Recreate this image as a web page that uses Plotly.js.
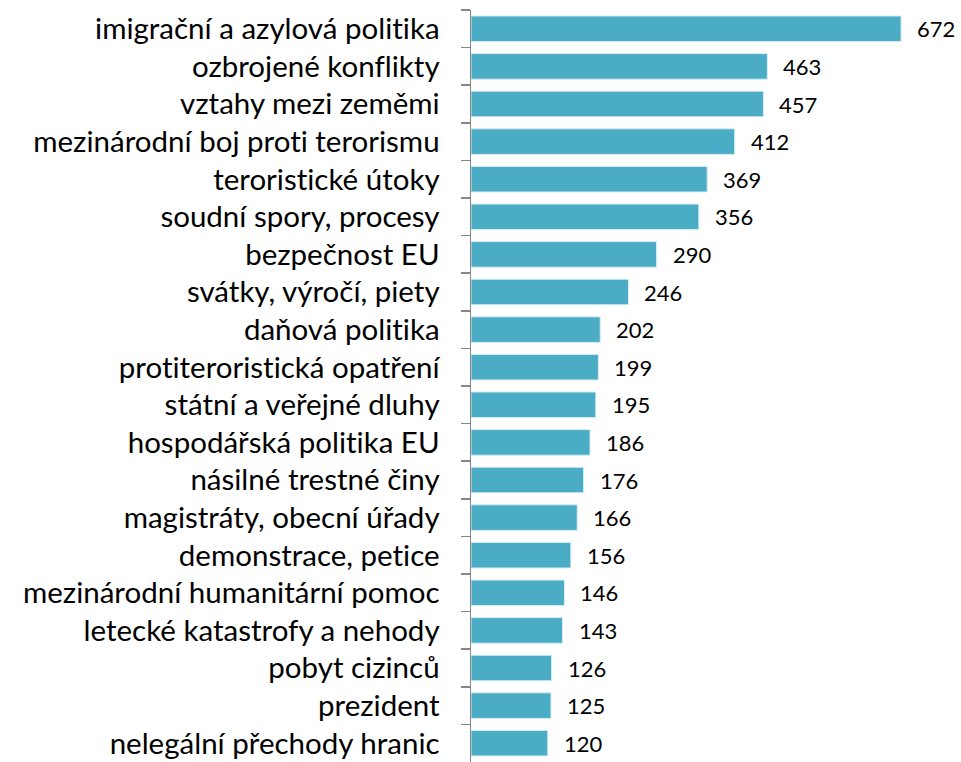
<!DOCTYPE html>
<html>
<head>
<meta charset="utf-8">
<script src="https://cdn.plot.ly/plotly-3.0.1.min.js"></script>
<style>
html,body{margin:0;padding:0;background:#fff;}
#chart{width:961px;height:762px;}
#chart text{font-variant-ligatures:none;font-feature-settings:"liga" 0,"clig" 0,"dlig" 0;}
</style>
</head>
<body>
<div id="chart"></div>
<script>
const categories = [
  "imigrační a azylová politika",
  "ozbrojené konflikty",
  "vztahy mezi zeměmi",
  "mezinárodní boj proti terorismu",
  "teroristické útoky",
  "soudní spory, procesy",
  "bezpečnost EU",
  "svátky, výročí, piety",
  "daňová politika",
  "protiteroristická opatření",
  "státní a veřejné dluhy",
  "hospodářská politika EU",
  "násilné trestné činy",
  "magistráty, obecní úřady",
  "demonstrace, petice",
  "mezinárodní humanitární pomoc",
  "letecké katastrofy a nehody",
  "pobyt cizinců",
  "prezident",
  "nelegální přechody hranic"
];
const values = [672, 463, 457, 412, 369, 356, 290, 246, 202, 199, 195, 186, 176, 166, 156, 146, 143, 126, 125, 120];

const FONT = "Lato, 'Open Sans', sans-serif";

const trace = {
  type: "bar",
  orientation: "h",
  x: values,
  y: categories,
  marker: {color: "#4BACC6", line: {color: "#d6eef4", width: 1}},
  width: 0.68,
  hoverinfo: "x+y"
};

const annotations = values.map((v, i) => ({
  x: v, y: categories[i], xref: "x", yref: "y",
  text: String(v), showarrow: false, xanchor: "left", yanchor: "middle",
  xshift: 14, font: {family: FONT, size: 22, color: "#000"}
}));

const layout = {
  width: 961, height: 762,
  margin: {l: 471, r: 10, t: 10, b: 0, pad: 0},
  paper_bgcolor: "#fff", plot_bgcolor: "#fff",
  showlegend: false,
  xaxis: {range: [0, 750], visible: false, showgrid: false, zeroline: false},
  yaxis: {
    type: "category",
    autorange: false,
    range: [19.5, -0.5],
    showline: true, linecolor: "#868686", linewidth: 1.5,
    ticks: "outside", tickson: "boundaries", ticklen: 9, tickcolor: "#868686", tickwidth: 1.5,
    showgrid: false, zeroline: false,
    ticklabelstandoff: 24,
    tickfont: {family: FONT, size: 29.5, color: "#000"}
  },
  annotations: annotations
};

Plotly.newPlot("chart", [trace], layout, {displayModeBar: false, staticPlot: true});
</script>
</body>
</html>
